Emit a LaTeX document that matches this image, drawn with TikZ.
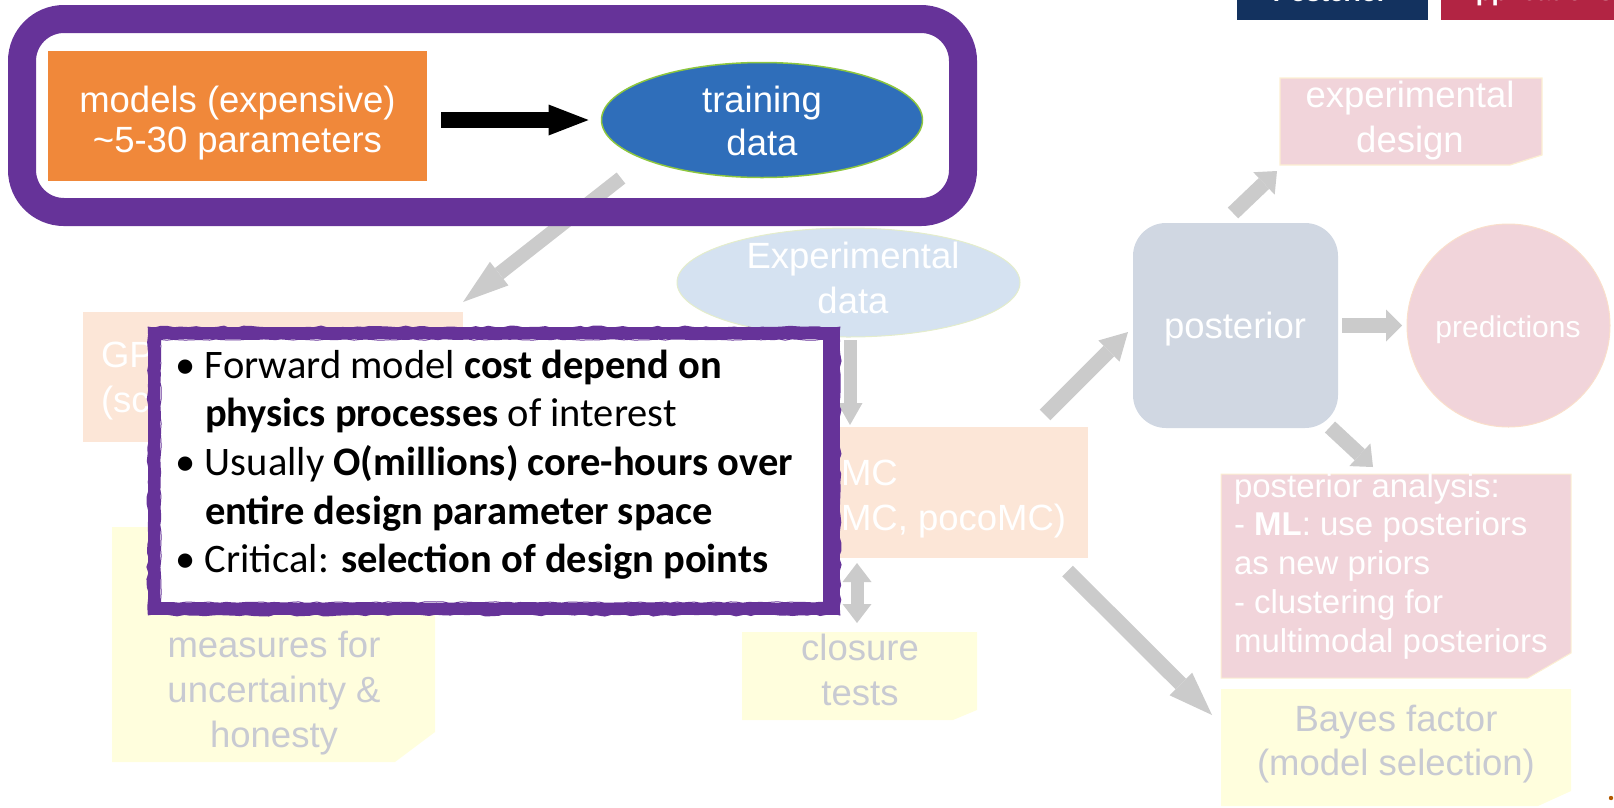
\documentclass[tikz,border=0pt]{standalone}
\usepackage{fontspec}
\setmainfont{Liberation Sans}
\newfontfamily\calibri{Carlito}
\usetikzlibrary{arrows.meta,calc,shapes.geometric,decorations.pathmorphing}

\definecolor{frame}{HTML}{663399}
\definecolor{orangebox}{HTML}{F0883A}
\definecolor{trainblue}{HTML}{2F6EBA}
\definecolor{trainedge}{HTML}{8DC63F}
\definecolor{expblue}{HTML}{D5E2F1}
\definecolor{expedge}{HTML}{E4EDCB}
\definecolor{peach}{HTML}{FCE6D7}
\definecolor{paleyellow}{HTML}{FFFEDD}
\definecolor{palepink}{HTML}{F1D4DA}
\definecolor{pinkedge}{HTML}{FCEFD2}
\definecolor{postblue}{HTML}{D0D7E2}
\definecolor{prededge}{HTML}{FADFCB}
\definecolor{fadedgrey}{HTML}{C8CAD2}
\definecolor{arrowgrey}{HTML}{CBCBCB}
\definecolor{btnnavy}{HTML}{13325F}
\definecolor{btncrimson}{HTML}{B22443}

% multi-line text whose baseline is the first line
\newcommand\textrows[2]{\begin{tabular}[t]{@{}#1@{}}#2\end{tabular}}
\newcommand\bul{\makebox[30pt][l]{•}}
\newcommand\ind{\hspace*{30pt}}
% box with its lower right corner cut off
\newcommand\snipfill[4]{\path[#1] (#2.north west) -- (#2.north east) -- ([yshift=#3]#2.south east) -- ([xshift=-#4]#2.south east) -- (#2.south west) -- cycle;}

\begin{document}
\begin{tikzpicture}[x=1pt, y=-1pt,
  every node/.style={inner sep=0pt, outer sep=0pt},
  lbl/.style={anchor=base, font=\fontsize{36.5}{45}\selectfont},
  whitetxt/.style={lbl, text=white},
  fadedtext/.style={lbl, text=fadedgrey},
  plate/.style={rectangle, draw=none, fill=none},
  garrow/.style={draw=arrowgrey, line cap=butt},
  gtip/.style 2 args={arrows={-{Triangle[length=#1, width=#2, line width=0pt]}}},
  gtips/.style 2 args={arrows={{Triangle[length=#1, width=#2, line width=0pt]}-{Triangle[length=#1, width=#2, line width=0pt]}}},
  btntxt/.style={anchor=base, text=white, font=\bfseries\fontsize{26}{30}\selectfont},
]
\useasboundingbox (0,0) rectangle (1614,807);
\clip (0,0) rectangle (1614,807);
\pgfmathsetseed{7}

% tabs at the top edge
\node[rectangle, fill=btnnavy, minimum width=191pt, minimum height=60pt, anchor=south west] (tabA) at (1237,20) {};
\node[btntxt] (tabAtxt) at (1330,1.5) {Posterior};
\node[rectangle, fill=btncrimson, minimum width=200pt, minimum height=60pt, anchor=south west] (tabB) at (1441,20) {};
\node[btntxt] (tabBtxt) at (1535,0.5) {Applications};

% ---------- faded workflow ----------
\node[plate, fill=peach, minimum width=380pt, minimum height=130pt] (gp) at (273,377) {};
\node[whitetxt, anchor=base west] (gptxt) at (101,367) {\textrows{l}{GP\\(sc}};

\node[plate, fill=peach, minimum width=388pt, minimum height=131pt] (mcmc) at (894,492.5) {};
\node[whitetxt, anchor=base west] (mcmctxt) at (841,485) {\textrows{l}{MC\\MC, pocoMC)}};

\node[ellipse, fill=expblue, draw=expedge, line width=1pt, minimum width=343pt, minimum height=109pt] (expdata) at (848.5,282.5) {};
\node[whitetxt] (exptxt) at (853,268) {\textrows{c}{Experimental\\data}};

\node[plate, minimum width=235pt, minimum height=88pt] (closure) at (859.5,676) {};
\snipfill{fill=paleyellow}{closure}{10pt}{24pt}
\node[fadedtext] (closuretxt) at (860,660) {\textrows{c}{closure\\tests}};

\node[plate, minimum width=323pt, minimum height=235pt] (unc) at (273.5,644.5) {};
\snipfill{fill=paleyellow}{unc}{30pt}{40pt}
\node[fadedtext] (unctxt) at (274,657) {\textrows{c}{measures for\\uncertainty \&\\honesty}};

\node[plate, minimum width=262pt, minimum height=87pt] (design) at (1411,121.5) {};
\snipfill{fill=palepink, draw=pinkedge, line width=1.2pt}{design}{10pt}{32pt}
\node[whitetxt] (designtxt) at (1410,107) {\textrows{c}{experimental\\design}};

\node[rectangle, rounded corners=33pt, fill=postblue, minimum width=205pt, minimum height=205pt] (post) at (1235.5,325.5) {};
\node[whitetxt] (posttxt) at (1235,338) {posterior};

\node[circle, fill=palepink, draw=prededge, line width=1pt, minimum size=203pt] (pred) at (1508.5,325.5) {};
\node[whitetxt, font=\fontsize{30}{36}\selectfont] (predtxt) at (1508,337) {predictions};

\node[plate, minimum width=350pt, minimum height=204pt] (panal) at (1396,576) {};
\snipfill{fill=palepink, draw=pinkedge, line width=1pt}{panal}{25pt}{43pt}
\node[whitetxt, anchor=base west, font=\fontsize{33}{38.75}\selectfont] (panaltxt) at (1234,497)
  {\textrows{l}{posterior analysis:\\- \textbf{ML}: use posteriors\\as new priors\\- clustering for\\multimodal posteriors}};

\node[plate, minimum width=350pt, minimum height=117pt] (bayes) at (1396,747.5) {};
\snipfill{fill=paleyellow}{bayes}{15pt}{33pt}
\node[fadedtext, font=\fontsize{36.5}{44}\selectfont] (bayestxt) at (1396,731) {\textrows{c}{Bayes factor\\(model selection)}};

% grey connectors
\draw[garrow, line width=13pt, gtip={22pt}{25pt}] ($(expdata.south)+(1.5,3)$) -- ($(expdata.south |- mcmc.north)+(1.5,-2)$);
\draw[garrow, line width=13pt, gtips={19pt}{29pt}] ($(closure.north |- mcmc.south)+(-2.5,5)$) -- ($(closure.north)+(-2.5,-9)$);
\draw[garrow, line width=15pt, gtip={27pt}{30pt}] ($(mcmc.north east)+(-43,-12)$) -- ($(post.west)+(-5,6.5)$);
\draw[garrow, line width=15pt, gtip={44pt}{32pt}] ($(mcmc.south east)+(-20.5,13)$) -- ($(bayes.north west)+(-9,26)$);
\draw[garrow, line width=15pt, gtip={16pt}{32pt}] ($(post.east)+(4,0)$) -- ($(pred.west)+(-5,0)$);
\draw[garrow, line width=15pt, gtip={18pt}{31pt}] ($(post.north)+(-2.5,-10)$) -- ($(design.south west)+(-3,6)$);
\draw[garrow, line width=15pt, gtip={18pt}{31pt}] ($(post.south east)+(-8,-1)$) -- ($(panal.north west)+(152,-7)$);

% ---------- highlighted step ----------
\node[plate, fill=orangebox, minimum width=379pt, minimum height=130pt] (models) at (237.5,116) {};
\node[whitetxt, font=\fontsize{36.5}{40}\selectfont] (modelstxt) at (237.5,112) {\textrows{c}{models (expensive)\\\textasciitilde5-30 parameters}};

\node[ellipse, fill=trainblue, draw=trainedge, line width=1.5pt, minimum width=321pt, minimum height=115pt] (train) at (762,120) {};
\node[whitetxt, font=\fontsize{36.5}{43}\selectfont] (traintxt) at (762,112) {\textrows{c}{training\\data}};

\draw[garrow, line width=14pt, gtip={46pt}{30pt}] ($(train.center)+(-141,58)$) -- ($(gp.north east)+(0,-10)$);

\draw[line width=16pt, arrows={-{Triangle[length=40pt, width=31pt, line width=0pt]}}] ($(models.east)+(14,4)$) -- ($(train.west)+(-13,0)$);

\node[rectangle, draw=frame, line width=28pt, rounded corners=42pt, minimum width=941pt, minimum height=193pt] (focus) at (492.5,115.5) {};

% ---------- callout ----------
\node[rectangle, fill=white, draw=frame, line width=12pt, minimum width=680pt, minimum height=276pt] (note) at (494,471) {};
\draw[frame, line width=5pt] ($(note.north east)+(-8.5,6)$) -- ($(note.south east)+(-8.5,-6)$);
\draw[frame, line width=2.5pt, decorate, decoration={random steps, segment length=7pt, amplitude=1.3pt}]
  ($(note.north west)+(-5,-5)$) rectangle ($(note.south east)+(5,5)$);
\draw[frame, line width=1pt, decorate, decoration={random steps, segment length=6pt, amplitude=0.7pt}]
  ($(note.north west)+(6.5,6.5)$) rectangle ($(note.south east)+(-6.5,-6.5)$);
\node[anchor=base west, font=\calibri\fontsize{40.5}{48.7}\selectfont] (notetxt) at (175,378) {\textrows{l}{%
\bul Forward model \textbf{cost depend on}\\
\ind\textbf{physics processes} of interest\\
\bul Usually \textbf{O(millions) core-hours over}\\
\ind\textbf{entire design parameter space}\\
\bul Critical: \textbf{selection of design points}}};

\fill[orange!70!black] (1611,798) circle (2.2);
\end{tikzpicture}
\end{document}
